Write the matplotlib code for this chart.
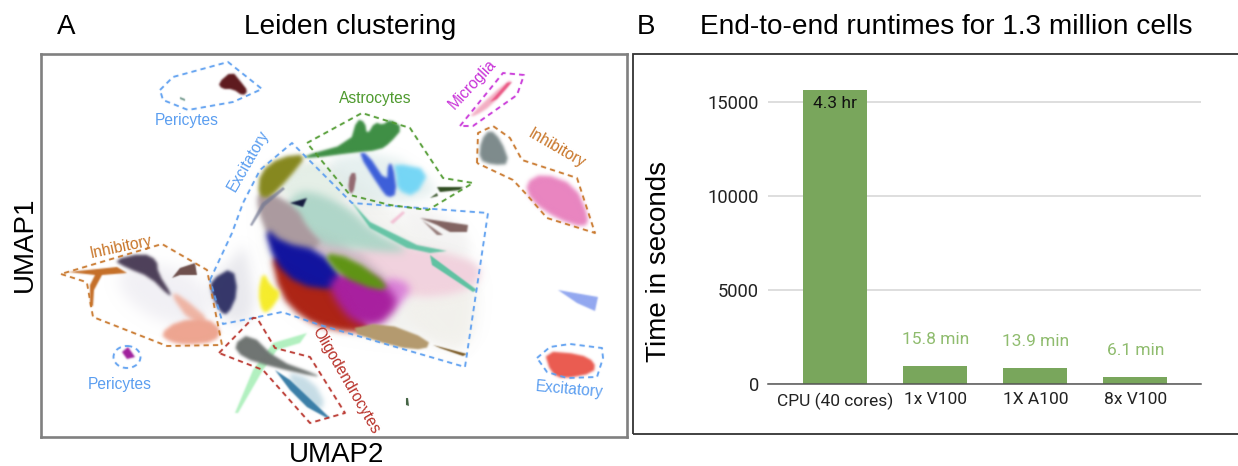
"""Leiden clustering UMAP panel plus end-to-end runtime bars."""
import matplotlib

matplotlib.use("Agg")
import matplotlib.pyplot as plt
import numpy as np
from matplotlib.patches import Ellipse, Polygon, Rectangle

W, H = 1238, 466

# runtime bars
CATEGORIES = ["CPU (40 cores)", "1x V100", "1X A100", "8x V100"]
RUNTIMES_S = [15640, 948, 834, 366]
RUNTIME_LABELS = ["4.3 hr", "15.8 min", "13.9 min", "6.1 min"]
Y_TICKS = [0, 5000, 10000, 15000]

# dashed cluster outlines
OUT_PERICYTES_TOP = [(160, 90), (173, 77), (228, 62), (262, 89), (233, 102), (188, 110), (163, 100), (160, 90)]
OUT_ASTROCYTES = [(307, 143), (362, 113), (410, 128), (443, 178), (473, 183), (428, 210), (390, 205), (350, 195), (307, 143)]
OUT_MICROGLIA = [(460, 126), (503, 73), (524, 75), (517, 95), (473, 126), (460, 126)]
OUT_INHIB_RIGHT = [(477, 163), (478, 133), (493, 126), (510, 138), (522, 160), (577, 178), (595, 233), (547, 218), (527, 195), (513, 180), (477, 163)]
OUT_EXCITATORY = [(210, 280), (232, 233), (243, 203), (260, 170), (292, 143), (352, 203), (488, 213), (465, 367), (320, 325), (282, 312), (253, 318), (223, 324), (210, 280)]
OUT_INHIB_LEFT = [(61, 274), (83, 281), (87, 283), (93, 317), (167, 346), (222, 345), (207, 270), (162, 244), (61, 274)]
OUT_OLIGO = [(219, 353), (253, 318), (257, 318), (275, 348), (310, 357), (345, 413), (310, 423), (263, 370), (219, 353)]
OUT_EXC_RIGHT = [(537, 358), (550, 347), (570, 344), (602, 348), (603, 358), (597, 377), (567, 378), (547, 372), (537, 358)]

# cell clouds
WASH_CENTRE = [(260, 195), (285, 160), (340, 165), (420, 235), (478, 262), (472, 350), (425, 340), (350, 332), (300, 318), (268, 270)]
WASH_LOWER = [(393, 305), (457, 290), (477, 292), (467, 355), (433, 345), (427, 335)]
WASH_LEFT = [(115, 270), (160, 262), (205, 280), (212, 325), (165, 325), (125, 300)]
WASH_NAVY = [(205, 285), (235, 258), (245, 240), (258, 320), (225, 325)]
WASH_ASTRO = [(318, 160), (385, 150), (440, 185), (425, 200), (355, 205)]
WASH_INNER = [(395, 205), (440, 210), (470, 235), (470, 262), (420, 240)]
PERI_DARK = [(218, 83), (232, 71), (241, 82), (248, 91), (243, 96), (233, 89), (222, 89)]
PERI_SMALL = [(180, 97), (185, 99), (185, 101), (180, 99)]
PALE_TOP = [(285, 175), (310, 160), (330, 170), (350, 200), (323, 198), (300, 195), (280, 195)]
OLIVE = [(258, 196), (260, 172), (280, 157), (308, 154), (289, 178), (270, 198)]
MAUVE = [(257, 193), (272, 193), (297, 208), (308, 228), (325, 247), (280, 255), (266, 232), (258, 210)]
MID_ROSE = [(300, 225), (350, 243), (395, 285), (380, 288), (350, 265), (320, 255), (288, 248)]
PALE_TEAL = [(282, 210), (298, 190), (325, 195), (352, 210), (372, 230), (412, 252), (383, 252), (350, 248), (323, 245), (303, 230)]
PALE_PINK = [(345, 250), (383, 243), (437, 250), (480, 263), (480, 282), (458, 294), (417, 298), (390, 290)]
BLUE = [(264, 226), (283, 243), (320, 250), (345, 280), (335, 290), (298, 285), (274, 262)]
RED = [(270, 250), (300, 270), (340, 278), (365, 322), (375, 333), (330, 330), (302, 318), (280, 295)]
ORCHID = [(383, 276), (412, 284), (405, 300), (390, 312)]
MAGENTA = [(328, 282), (350, 268), (385, 282), (400, 305), (378, 328), (352, 322), (335, 300)]
GREEN = [(322, 252), (352, 258), (390, 286), (378, 291), (340, 276)]
TEAL_BAND = [(350, 200), (370, 222), (417, 245), (447, 251), (430, 253), (407, 248), (370, 228)]
TEAL_THIN = [(430, 255), (477, 290), (473, 292), (432, 265)]
NAVY_SPOT = [(290, 203), (307, 198), (303, 207)]
STREAK = [(250, 225), (262, 203), (283, 187), (285, 189), (265, 206), (252, 226)]
TAN = [(345, 330), (383, 322), (430, 340), (426, 350), (395, 347)]
BROWN_STREAK = [(433, 345), (467, 354), (463, 356), (440, 348)]
BROWN_UPPER = [(420, 218), (468, 225), (467, 232), (450, 232), (437, 225)]
BROWN_TAIL = [(422, 220), (443, 235), (437, 235)]
PINK_TICK = [(390, 222), (403, 211), (405, 213), (393, 224)]
ASTRO_GREEN = [(300, 157), (350, 143), (357, 119), (365, 122), (367, 135), (375, 122), (383, 125), (390, 119), (403, 128), (390, 143), (380, 150), (350, 153), (313, 158)]
ASTRO_BLUE = [(358, 153), (367, 153), (387, 183), (388, 163), (393, 165), (397, 194), (388, 198), (380, 188)]
ASTRO_CYAN = [(393, 163), (430, 170), (415, 197), (397, 190), (396, 173)]
ASTRO_MAUVE = [(350, 173), (357, 173), (353, 195), (348, 190)]
DARK_GREEN = [(437, 187), (463, 187), (460, 190), (440, 192)]
DARK_GREEN_TAIL = [(430, 198), (437, 193), (438, 196)]
MICRO_PALE = [(469, 116), (507, 81), (513, 81), (491, 106), (475, 116)]
MICRO_PINK = [(490, 102), (507, 83), (512, 82), (497, 99)]
INHIB_GRAY = [(479, 160), (481, 140), (490, 129), (501, 140), (510, 164), (493, 165)]
INHIB_PINK = [(525, 183), (543, 173), (575, 185), (589, 217), (585, 228), (557, 219), (531, 201)]
LEFT_ORANGE = [(68, 272), (117, 267), (127, 273), (102, 275), (94, 290), (93, 306), (90, 306), (90, 285), (95, 275)]
LEFT_PURPLE = [(113, 260), (143, 253), (157, 260), (158, 273), (172, 295), (168, 295), (150, 277), (127, 268)]
LEFT_SALMON = [(160, 334), (177, 321), (207, 318), (222, 330), (215, 342), (187, 345), (170, 342)]
LEFT_SALMON_ARM = [(170, 293), (180, 295), (212, 322), (190, 322)]
LEFT_BROWN = [(172, 278), (180, 268), (195, 263), (197, 275), (180, 275)]
LEFT_NAVY = [(211, 280), (233, 267), (238, 293), (228, 315), (220, 312), (211, 293)]
YELLOW = [(263, 271), (271, 286), (282, 293), (269, 312), (262, 312), (258, 293)]
OLIGO_GRAY = [(233, 345), (250, 333), (277, 360), (318, 375), (317, 377), (273, 367), (243, 358)]
OLIGO_PALE = [(283, 370), (313, 380), (327, 407), (310, 410)]
OLIGO_BLUE = [(275, 370), (290, 380), (330, 418), (327, 418), (307, 407), (290, 390)]
PALE_GREEN = [(235, 413), (253, 370), (273, 343), (307, 333), (300, 343), (277, 350), (263, 370), (238, 413)]
PERI_MAGENTA = [(122, 352), (128, 347), (135, 357), (127, 359)]
PERIWINKLE = [(558, 290), (598, 297), (595, 311), (577, 303)]
RIGHT_RED = [(544, 351), (580, 354), (595, 362), (594, 373), (563, 379), (551, 373)]
SPECK = [(406, 398), (408, 398), (409, 406), (406, 405)]

LAYERS = [
    (WASH_CENTRE, "#ecece8", 0.6, 7), (WASH_LOWER, "#f1efe9", 0.5, 5), (WASH_LEFT, "#dedbe6", 0.4, 7),
    (WASH_NAVY, "#c8c8d4", 0.4, 6), (WASH_ASTRO, "#cfe3e2", 0.5, 5), (WASH_INNER, "#ecebea", 0.5, 5),
    (PALE_TOP, "#e4efe6", 0.9, 3),
    (PALE_PINK, "#f2d3de", 1, 4), (MID_ROSE, "#cdb6c2", 0.9, 4), (PALE_TEAL, "#a9d4c5", 0.9, 4), (MAUVE, "#ab9b9f", 1, 2.5),
    (OLIVE, "#87881f", 1, 2), (RED, "#ad2415", 1, 3), (BLUE, "#11149f", 1, 3), (ORCHID, "#d97ad8", 0.9, 4),
    (MAGENTA, "#a8209f", 1, 4), (GREEN, "#5f9414", 1, 2.5), (TEAL_BAND, "#5fc2a2", 0.95, 0.9), (TEAL_THIN, "#5fc2a2", 1, 0.7),
    (NAVY_SPOT, "#141a3e", 1, 0.9), (STREAK, "#6f7590", 0.7, 0.7), (TAN, "#b49a6e", 1, 1), (BROWN_STREAK, "#77551f", 1, 0.7),
    (BROWN_UPPER, "#7b5b58", 0.95, 0.9), (BROWN_TAIL, "#7b5b58", 0.8, 0.9), (PINK_TICK, "#f2bdd2", 0.9, 0.9),
    (ASTRO_CYAN, "#6fd5f6", 0.95, 2), (ASTRO_GREEN, "#3f8f45", 1, 1.2), (ASTRO_BLUE, "#3c5ed9", 1, 1.4),
    (ASTRO_MAUVE, "#8a5a62", 0.9, 1), (DARK_GREEN, "#2f4d20", 1, 0.8), (DARK_GREEN_TAIL, "#2f4d20", 0.9, 0.7),
    (PERI_DARK, "#5e1a1e", 1, 1), (PERI_SMALL, "#5d8a7c", 0.9, 0.6),
    (MICRO_PALE, "#f2a5bd", 0.9, 1.2), (MICRO_PINK, "#ea4f7e", 0.9, 0.8), (INHIB_GRAY, "#7d8b8c", 1, 1.5),
    (INHIB_PINK, "#e985c0", 1, 2), (LEFT_SALMON_ARM, "#efaa96", 0.85, 2), (LEFT_SALMON, "#eea591", 1, 1.8),
    (LEFT_ORANGE, "#c56f28", 1, 0.8), (LEFT_PURPLE, "#4d4059", 1, 1.5), (LEFT_BROWN, "#6e4f4c", 1, 0.7),
    (LEFT_NAVY, "#2b2d62", 0.95, 1.5), (YELLOW, "#f6ec2c", 1, 1.8), (PALE_GREEN, "#a9efb9", 0.9, 0.9),
    (OLIGO_PALE, "#b8d4e0", 0.8, 2.5), (OLIGO_GRAY, "#6f7472", 1, 1.4), (OLIGO_BLUE, "#3b7fa8", 1, 0.8),
    (PERI_MAGENTA, "#a0209c", 1, 0.9), (PERIWINKLE, "#93a8f0", 1, 0.8), (RIGHT_RED, "#ea5b50", 1, 1.2), (SPECK, "#3f5f3f", 1, 0.4),
]

BLUE_LINE = "#5b9ef0"
OUTLINES = [
    (OUT_PERICYTES_TOP, BLUE_LINE), (OUT_EXCITATORY, BLUE_LINE), (OUT_EXC_RIGHT, BLUE_LINE),
    (OUT_ASTROCYTES, "#4f9a2f"), (OUT_MICROGLIA, "#c832d8"), (OUT_INHIB_RIGHT, "#c87528"),
    (OUT_INHIB_LEFT, "#c87528"), (OUT_OLIGO, "#b8322a"),
]

CLUSTER_LABELS = [
    ("Pericytes", 187, 120, 0, BLUE_LINE), ("Pericytes", 120, 384, 0, BLUE_LINE),
    ("Excitatory", 248, 161, 60, BLUE_LINE), ("Excitatory", 569, 389, -5, BLUE_LINE),
    ("Astrocytes", 375, 98, 0, "#4f9a2f"), ("Microglia", 472, 84, 47, "#c832d8"),
    ("Inhibitory", 557, 148, -30, "#c87528"), ("Inhibitory", 121, 247, 12, "#c87528"),
    ("Oligodendrocytes", 346, 380, -60, "#b8322a"),
]


def soft(sigma):
    """Agg filter that blurs an artist by sigma pixels (premultiplied alpha)."""
    radius = max(1, int(np.ceil(sigma * 3)))
    offsets = np.arange(-radius, radius + 1)
    weights = np.exp(-0.5 * (offsets / sigma) ** 2)
    weights /= weights.sum()

    def process(src, dpi):
        img = np.pad(src, [(radius, radius), (radius, radius), (0, 0)])
        img[..., :3] *= img[..., 3:]
        for axis in (0, 1):
            img = sum(w * np.roll(img, k, axis=axis) for k, w in zip(offsets, weights))
        alpha = np.clip(img[..., 3:], 1e-4, 1)
        img[..., :3] = np.clip(img[..., :3] / alpha, 0, 1)
        return img, -radius, -radius

    return process


def rounded(verts):
    """One pass of Chaikin corner cutting, so the read-off polygons lose hard corners."""
    pts = np.asarray(verts, dtype=float)
    nxt = np.roll(pts, -1, axis=0)
    return np.column_stack([0.75 * pts + 0.25 * nxt, 0.25 * pts + 0.75 * nxt]).reshape(-1, 2)


def add_text(x, y, s, **kw):
    fig.text(x / W, 1 - y / H, s, ha="center", va="center", **kw)


plt.rcParams["font.family"] = ["Liberation Sans", "DejaVu Sans"]
fig = plt.figure(figsize=(W / 100, H / 100), dpi=100)

# --- panel A
ax = fig.add_axes([40.5 / W, 1 - 436.7 / H, 586.2 / W, 382.4 / H])
ax.set_xlim(40.5, 626.7)
ax.set_ylim(436.7, 54.3)
ax.set_xticks([])
ax.set_yticks([])
for spine in ax.spines.values():
    spine.set_color("#808080")
    spine.set_linewidth(1.9)

for verts, colour, alpha, blur in LAYERS:
    # thin streaks keep their tips, everything else gets rounded
    shape = rounded(verts) if blur >= 1 else verts
    blob = Polygon(shape, closed=True, fc=colour, ec="none", alpha=alpha)
    blob.set_agg_filter(soft(blur))
    ax.add_patch(blob)

for verts, colour in OUTLINES:
    xs, ys = zip(*verts)
    line, = ax.plot(xs, ys, color=colour, lw=1.35, dashes=(2.8, 2.2))
    line.set_agg_filter(soft(0.45))
ring = Ellipse((127, 357), 27, 22, fc="none", ec=BLUE_LINE, lw=1.35, ls=(0, (2.8, 2.2)))
ring.set_agg_filter(soft(0.45))
ax.add_patch(ring)

for label, x, y, angle, colour in CLUSTER_LABELS:
    ax.text(x, y, label, color=colour, fontsize=11.2, rotation=angle, rotation_mode="anchor",
            ha="center", va="center")

add_text(66, 27, "A", fontsize=20)
add_text(350, 27, "Leiden clustering", fontsize=20.2)
add_text(337, 454.5, "UMAP2", fontsize=20)
add_text(25, 244, "UMAP1", fontsize=20, rotation=90)

# --- panel B
fig.add_artist(Rectangle((632.5 / W, 1 - 434 / H), 620 / W, 380 / H, transform=fig.transFigure,
                         fc="none", ec="#333333", lw=1.3))
add_text(646, 27, "B", fontsize=20)
add_text(946, 27, "End-to-end runtimes for 1.3 million cells", fontsize=20.2)
add_text(659, 261, "Time in seconds", fontsize=20, rotation=90)

bx = fig.add_axes([768 / W, 1 - 384 / H, 433 / W, 319.6 / H])
x_pos = np.arange(len(CATEGORIES))
bx.bar(x_pos, RUNTIMES_S, width=0.64, color="#79a65c", zorder=3)
bx.set_xlim(-0.673, 3.657)
bx.set_ylim(0, 17000)
bx.set_xticks(x_pos, CATEGORIES, fontfamily="Roboto", fontsize=12.5, color="#222222")
bx.set_yticks(Y_TICKS, [str(v) for v in Y_TICKS], fontfamily="Roboto", fontsize=13.2, color="#222222")
bx.tick_params(axis="both", length=0)
bx.tick_params(axis="x", pad=6)
bx.tick_params(axis="y", pad=6.5)
bx.yaxis.grid(True, color="#d4d4d4", lw=1.1, zorder=0)
bx.set_axisbelow(True)
for side in ("top", "left", "right"):
    bx.spines[side].set_visible(False)
bx.spines["bottom"].set_color("#555555")
bx.spines["bottom"].set_linewidth(1.1)
bx.spines["bottom"].set_zorder(4)

for i, (value, label) in enumerate(zip(RUNTIMES_S, RUNTIME_LABELS)):
    inside = i == 0
    bx.annotate(label, (i, value), xytext=(0, -10 if inside else 19), textcoords="offset points",
                ha="center", va="center", fontfamily="Roboto", fontsize=12.5,
                color="#111111" if inside else "#8fbc6e", zorder=5)

fig.savefig("out.png", dpi=100)
